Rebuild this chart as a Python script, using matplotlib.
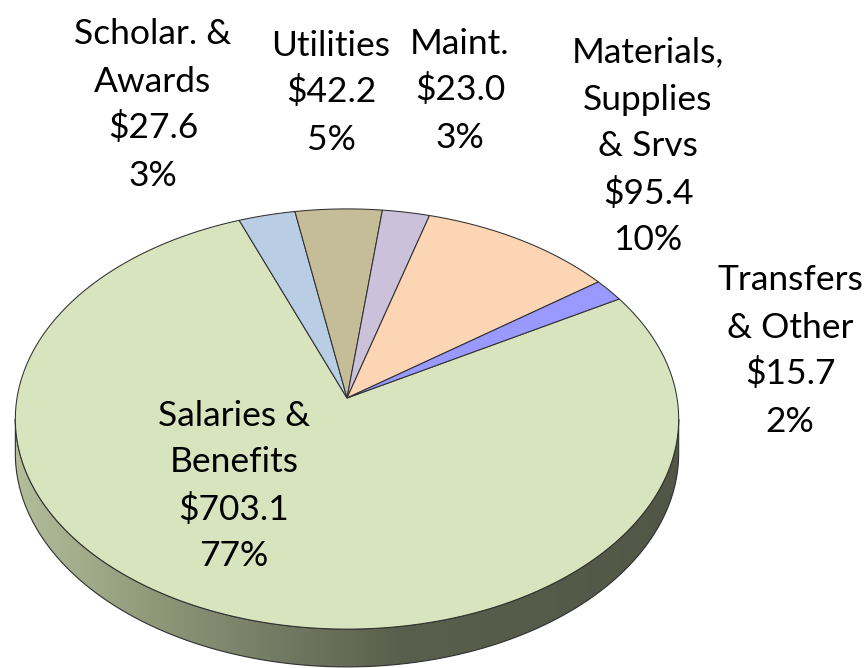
import numpy as np
import matplotlib
matplotlib.use("Agg")
import matplotlib.pyplot as plt
from matplotlib.patches import Polygon
from matplotlib.colors import LinearSegmentedColormap

# ---------------- data ----------------
categories = ["Salaries &\nBenefits", "Scholar. &\nAwards", "Utilities", "Maint.",
              "Materials,\nSupplies\n& Srvs", "Transfers\n& Other"]
values = [703.1, 27.6, 42.2, 23.0, 95.4, 15.7]
percent_labels = [77, 3, 5, 3, 10, 2]

# ---------------- style / layout ----------------
colors = ["#d7e4bd", "#b9cde5", "#c4bd97", "#ccc1da", "#fcd5b5", "#9999ff"]
label_pos = [(234, 413), (153, 32), (331, 43), (460, 41), (648, 50), (790, 278)]
line_pitch = 47
start_angle = 30.0          # math degrees, slices run clockwise
edge_col = "#303030"

W, H = 865, 668
cx, cy = 347.0, 398.0       # pie apex on screen
A, B, k = 330.0, 208.0, 0.10  # perspective ellipse parameters
depth = 34.0

def proj(u, v):
    w = 1.0 / (1.0 + k * v)
    return cx + A * u * w, cy - B * v * w

fig = plt.figure(figsize=(W / 100, H / 100), dpi=100)
ax = fig.add_axes([0, 0, 1, 1])
ax.set_xlim(0, W)
ax.set_ylim(H, 0)
ax.axis("off")

# ---------------- side (front rim) ----------------
tl = np.deg2rad(180 + np.degrees(np.arcsin(k)))
tr = np.deg2rad(360 - np.degrees(np.arcsin(k)))
ts = np.linspace(tl, tr, 300)
u, v = np.cos(ts), np.sin(ts)
xt, yt = proj(u, v)
off = depth / (1.0 + k * v)
xb, yb = xt, yt + off
side_pts = np.column_stack([np.concatenate([xt, xb[::-1]]),
                            np.concatenate([yt, yb[::-1]])])
side_patch = Polygon(side_pts, closed=True, facecolor="none",
                     edgecolor=edge_col, linewidth=0.8, zorder=2)
ax.add_patch(side_patch)

cmap = LinearSegmentedColormap.from_list(
    "side",
    [(0.0, (180/255, 190/255, 155/255)),
     (0.22, (142/255, 150/255, 120/255)),
     (0.40, (115/255, 122/255, 99/255)),
     (0.58, (90/255, 95/255, 77/255)),
     (1.0, (82/255, 86/255, 70/255))])
grad = np.linspace(0, 1, 512).reshape(1, -1)
x0, x1 = cx - A * 1.01, cx + A * 1.01
im = ax.imshow(grad, cmap=cmap, extent=[x0, x1, H, 0], aspect="auto",
               origin="upper", zorder=1, interpolation="bilinear")
im.set_clip_path(side_patch)

# ---------------- top face wedges ----------------
total = float(sum(values))
theta = start_angle
for val, col in zip(values, colors):
    sweep = 360.0 * val / total
    t = np.deg2rad(np.linspace(theta, theta - sweep, max(int(sweep * 2), 4)))
    xa, ya = proj(np.cos(t), np.sin(t))
    pts = np.column_stack([np.concatenate([[cx], xa]), np.concatenate([[cy], ya])])
    ax.add_patch(Polygon(pts, closed=True, facecolor=col, edgecolor=edge_col,
                         linewidth=0.75, joinstyle="miter", zorder=3))
    theta -= sweep

# ---------------- labels ----------------
font = dict(family=["Lato", "DejaVu Sans"], fontsize=25.5, color="black")
for name, val, pct, (lx, ly) in zip(categories, values, percent_labels, label_pos):
    lines = name.split("\n") + [f"${val:.1f}", f"{pct}%"]
    for i, ln in enumerate(lines):
        ax.text(lx, ly + i * line_pitch + 12.5, ln, ha="center", va="baseline",
                zorder=5, **font)

fig.savefig("out.png", dpi=100)
